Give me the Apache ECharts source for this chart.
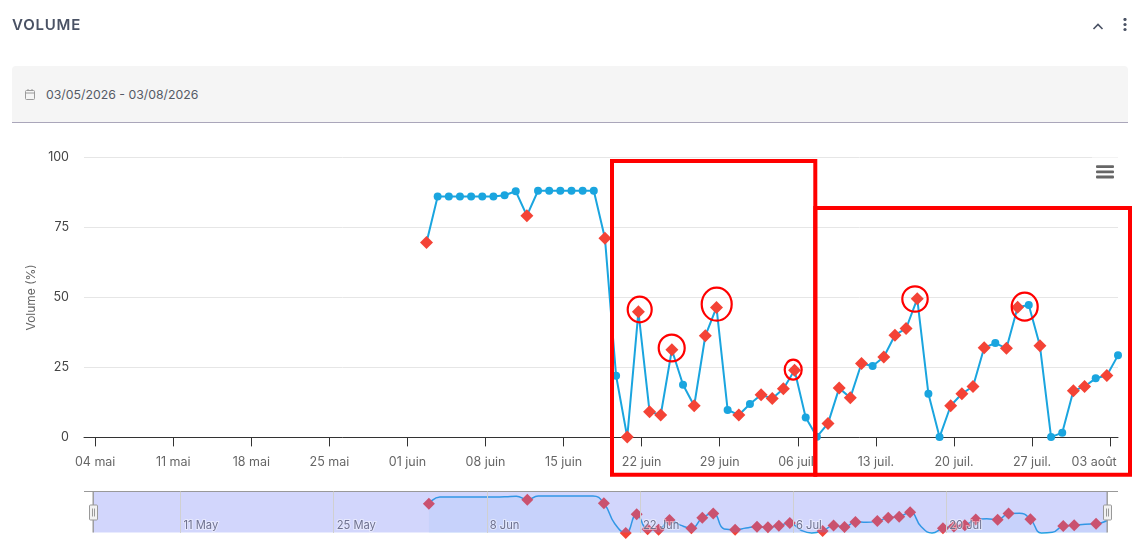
<!DOCTYPE html>
<html><head><meta charset="utf-8">
<script src="https://cdn.jsdelivr.net/npm/echarts@6/dist/echarts.min.js"></script>
<style>
html,body{margin:0;padding:0;width:1140px;height:558px;overflow:hidden;background:#fff;font-family:Inter,"Open Sans",sans-serif}
#chart{position:absolute;left:0;top:0;width:1140px;height:558px}
.abs{position:absolute}
#title{left:12px;top:15px;font-size:15px;font-weight:600;color:#4a5264;letter-spacing:.8px;line-height:20px}
#filter{left:12px;top:66px;width:1116px;height:56px;background:#f5f5f5;border-bottom:1px solid #aaa6ba;border-radius:4px 4px 0 0}
#range{left:46px;top:86px;font-size:12.3px;color:#555b66;line-height:18px}
</style></head><body>
<div id="chart"></div>
<div class="abs" id="title">VOLUME</div>
<div class="abs" id="filter"></div>
<svg class="abs" style="left:24px;top:88px" width="13" height="13" viewBox="0 0 13 13"><rect x="1.5" y="2.5" width="9" height="9" rx="1" fill="none" stroke="#9a9a9a"/><path d="M1.5 5H10.5M4 1v2M8 1v2" stroke="#9a9a9a" fill="none"/></svg>
<div class="abs" id="range">03/05/2026 - 03/08/2026</div>
<svg class="abs" style="left:1090px;top:18px" width="40" height="16" viewBox="0 0 40 16"><path d="M3.5 11L8 6.5L12.5 11" fill="none" stroke="#4a5264" stroke-width="1.6"/><circle cx="35" cy="1.5" r="1.6" fill="#4a5264"/><circle cx="35" cy="6.5" r="1.6" fill="#4a5264"/><circle cx="35" cy="11.5" r="1.6" fill="#4a5264"/></svg>
<script>
const firstDay = '2026-06-02';
const hourOfDay = 17;
const axisStart = '2026-05-03';
const values = [69.6,86,86,86,86,86,86,86.5,87.9,79.2,88.1,88.1,88.1,88.1,88.1,88.1,71.1,22,0.1,44.9,9.2,8,31.3,18.8,11.3,36.3,46.4,9.8,8,11.9,15.2,13.9,17.4,24,7.1,0.2,5,17.6,14.2,26.4,25.5,28.7,36.5,38.9,49.5,15.6,0.1,11.3,15.6,18.2,32,33.7,31.8,46.5,47.3,32.7,0.1,1.7,16.7,18.2,21.1,22.1,29.3];
const flagged = [1,0,0,0,0,0,0,0,0,1,0,0,0,0,0,0,1,0,1,1,1,1,1,0,1,1,1,0,1,0,1,1,1,1,0,0,1,1,1,1,0,1,1,1,1,0,0,1,1,1,1,0,1,1,0,1,0,0,1,1,0,1,0];
const tickDates = ['2026-05-04','2026-05-11','2026-05-18','2026-05-25','2026-06-01','2026-06-08','2026-06-15','2026-06-22','2026-06-29','2026-07-06','2026-07-13','2026-07-20','2026-07-27','2026-08-03'];
const tickLabels = ['04 mai','11 mai','18 mai','25 mai','01 juin','08 juin','15 juin','22 juin','29 juin','06 juil.','13 juil.','20 juil.','27 juil.','03 août'];
const navDates = ['2026-05-11','2026-05-25','2026-06-08','2026-06-22','2026-07-06','2026-07-20'];
const navLabels = ['11 May','25 May','8 Jun','22 Jun','6 Jul','20 Jul'];

const DAY = 864e5;
const day = d => (Date.parse(d + 'T00:00:00Z') - Date.parse(axisStart + 'T00:00:00Z')) / DAY;
const d0 = day(firstDay) + hourOfDay / 24;
const times = values.map((_, i) => d0 + i);
const xMin = 0, xMax = times[times.length - 1];
const FONT = 'Inter';
const BLUE = '#1aa5df', RED = '#f44336';
const tickT = tickDates.map(day), navT = navDates.map(day);

const mainData = values.map((v, i) => flagged[i]
  ? {value:[times[i], v], symbol:'diamond', symbolSize:13, itemStyle:{color:RED}}
  : {value:[times[i], v], symbol:'circle', symbolSize:8, itemStyle:{color:BLUE}});
const navData = values.map((v, i) => flagged[i]
  ? {value:[times[i], v], symbol:'diamond', symbolSize:12, itemStyle:{color:RED}}
  : {value:[times[i], v], symbol:'none'});

const redRect = (x,y,w,h) => ({type:'rect', z:100, shape:{x,y,width:w,height:h}, style:{fill:'none', stroke:'#ff0000', lineWidth:4}});
const redEll = (cx,cy,rx,ry) => ({type:'ellipse', z:100, shape:{cx,cy,rx,ry}, style:{fill:'none', stroke:'#ff0000', lineWidth:2.2}});
const solid = (x,y,w,h,fill,z=60,r=0) => ({type:'rect', z, shape:{x,y,width:w,height:h,r}, style:{fill}});
const handle = x => [
  {type:'rect', z:61, shape:{x:x-3.5,y:505,width:8,height:15,r:1}, style:{fill:'#f2f2f2', stroke:'#999', lineWidth:1}},
  solid(x-1,508.5,1,8,'#999',62), solid(x+1,508.5,1,8,'#999',62)
];

const option = {
  animation:false,
  textStyle:{fontFamily:FONT},
  grid:[
    {left:84, right:22, top:157.4, height:280},
    {left:93, right:33, top:491.5, height:41.5}
  ],
  xAxis:[
    {type:'value', gridIndex:0, min:xMin, max:xMax,
     axisLine:{show:true, onZero:false, lineStyle:{color:'#333', width:1}},
     axisTick:{show:true, length:9, customValues:tickT, lineStyle:{color:'#333'}},
     axisLabel:{show:true, customValues:tickT, margin:18, color:'#666', fontSize:12.5, fontFamily:FONT, hideOverlap:false,
       rich:{last:{color:'#666', fontSize:12.5, fontFamily:FONT, padding:[0,32,0,0]}},
       formatter:(v) => {
         const i = tickT.indexOf(v), s = tickLabels[i] || '';
         return i === tickT.length - 1 ? '{last|' + s + '}' : s;
       }},
     splitLine:{show:false}},
    {type:'value', gridIndex:1, min:xMin, max:xMax, z:70,
     axisLine:{show:false, onZero:false},
     axisTick:{show:false, customValues:navT},
     axisLabel:{show:true, inside:true, customValues:navT, align:'left', margin:2, color:'#6f7290', fontSize:11.2, fontFamily:FONT, padding:[0,0,0,3],
       textBorderColor:'rgba(255,255,255,.45)', textBorderWidth:2,
       formatter:v => navLabels[navT.indexOf(v)] || ''},
     splitLine:{show:true, lineStyle:{color:'#d0d0d0', width:1}}}
  ],
  yAxis:[
    {type:'value', gridIndex:0, min:0, max:100, interval:25,
     name:'Volume (%)', nameLocation:'middle', nameGap:45, nameRotate:90,
     nameTextStyle:{color:'#666', fontSize:12, fontFamily:FONT},
     axisLine:{show:false}, axisTick:{show:false},
     axisLabel:{margin:15, color:'#444', fontSize:12.5, fontFamily:FONT, padding:[2,0,0,0]},
     splitLine:{show:true, lineStyle:{color:'#e6e6e6', width:1}}},
    {type:'value', gridIndex:1, min:0, max:99, show:false, splitLine:{show:false}}
  ],
  series:[
    {type:'line', xAxisIndex:0, yAxisIndex:0, data:mainData, clip:false, z:5,
     lineStyle:{color:BLUE, width:2}, showSymbol:true, showAllSymbols:true, silent:true},
    {type:'line', xAxisIndex:1, yAxisIndex:1, data:navData, smooth:0.5, clip:false, z:5,
     lineStyle:{color:BLUE, width:1.5}, areaStyle:{color:'rgba(26,165,223,.1)'}, showAllSymbols:true, silent:true}
  ],
  graphic:{elements:[
    solid(93,492,1014,40.4,'rgba(105,119,245,.3)',60),
    solid(84,491,1034,1,'#999',61),
    solid(92.5,491,1.4,41.4,'#999',61),
    solid(1106.5,491,1.4,41.4,'#999',61),
    ...handle(93), ...handle(1107),
    solid(1092,156,26,3,'rgba(255,255,255,.5)',60),
    solid(1096,165.2,18,2.8,'#666',61,1),
    solid(1096,170.4,18,2.8,'#666',61,1),
    solid(1096,175.6,18,2.8,'#666',61,1),
    redRect(612,161,203.3,313.7),
    redRect(815.3,208,314.7,266.7),
    redEll(639.7,309.5,12,12.8),
    redEll(671.7,348,13,13.3),
    redEll(716.7,304.2,15,16.5),
    redEll(793.2,369.7,8.5,10),
    redEll(915,299,12.7,12.7),
    redEll(1024.7,306.7,13,14)
  ]}
};
const chart = echarts.init(document.getElementById('chart'), null, {renderer:'canvas'});
chart.setOption(option);
</script>
</body></html>
